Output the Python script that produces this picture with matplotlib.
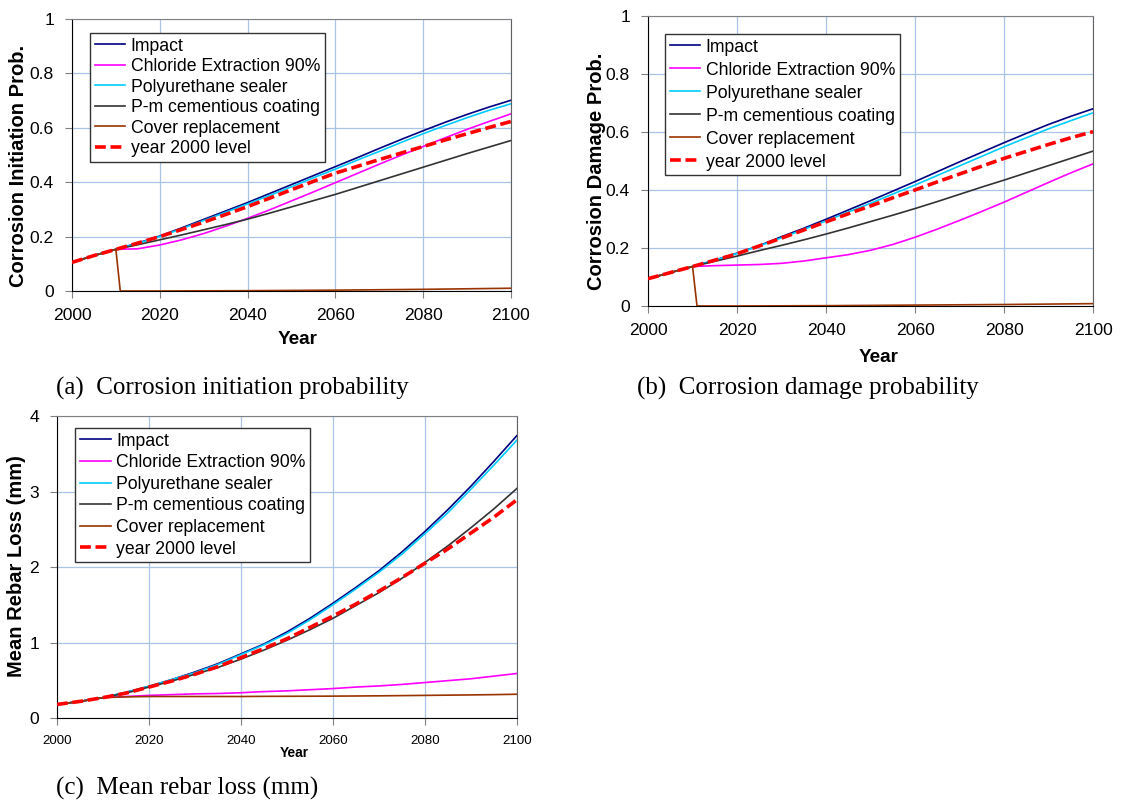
import numpy as np
import matplotlib
matplotlib.use("Agg")
import matplotlib.pyplot as plt

# ------------------------------------------------------------
# Data (every 5 years, 2000-2100)
# ------------------------------------------------------------
years = list(range(2000, 2101, 5))
years_cover = [2000, 2005, 2010, 2011, 2020, 2040, 2060, 2080, 2100]

labels = ["Impact", "Chloride Extraction 90%", "Polyurethane sealer",
          "P-m cementious coating", "Cover replacement", "year 2000 level"]

# (a) corrosion initiation probability
init_impact = [0.105, 0.130, 0.153, 0.176, 0.202, 0.232, 0.263, 0.294, 0.325, 0.358, 0.391,
               0.424, 0.457, 0.490, 0.524, 0.557, 0.589, 0.620, 0.649, 0.676, 0.701]
init_chloride = [0.105, 0.130, 0.153, 0.155, 0.169, 0.188, 0.211, 0.238, 0.267, 0.298, 0.331,
                 0.364, 0.398, 0.432, 0.466, 0.499, 0.531, 0.563, 0.594, 0.623, 0.651]
init_sealer = [0.105, 0.130, 0.153, 0.175, 0.200, 0.229, 0.259, 0.289, 0.320, 0.351, 0.383,
               0.416, 0.448, 0.481, 0.513, 0.546, 0.578, 0.608, 0.637, 0.664, 0.688]
init_coating = [0.105, 0.130, 0.153, 0.170, 0.188, 0.206, 0.225, 0.244, 0.264, 0.286, 0.309,
                0.332, 0.355, 0.380, 0.405, 0.430, 0.455, 0.480, 0.505, 0.529, 0.553]
init_cover = [0.105, 0.130, 0.153, 0.0, 0.0, 0.001, 0.003, 0.006, 0.010]
init_2000 = [0.105, 0.130, 0.153, 0.176, 0.200, 0.226, 0.253, 0.281, 0.310, 0.341, 0.372,
             0.403, 0.433, 0.458, 0.483, 0.507, 0.531, 0.555, 0.578, 0.601, 0.623]

# (b) corrosion damage probability
dmg_impact = [0.094, 0.115, 0.136, 0.158, 0.182, 0.208, 0.239, 0.268, 0.299, 0.331, 0.363,
              0.396, 0.429, 0.463, 0.497, 0.530, 0.563, 0.595, 0.626, 0.654, 0.680]
dmg_chloride = [0.094, 0.115, 0.136, 0.139, 0.141, 0.143, 0.147, 0.155, 0.166, 0.177, 0.192,
                0.212, 0.237, 0.265, 0.295, 0.326, 0.358, 0.392, 0.426, 0.459, 0.490]
dmg_sealer = [0.094, 0.115, 0.136, 0.158, 0.181, 0.207, 0.235, 0.264, 0.293, 0.324, 0.354,
              0.386, 0.417, 0.450, 0.483, 0.516, 0.549, 0.580, 0.611, 0.639, 0.666]
dmg_coating = [0.094, 0.115, 0.136, 0.154, 0.172, 0.191, 0.209, 0.228, 0.248, 0.269, 0.291,
               0.313, 0.336, 0.360, 0.385, 0.410, 0.434, 0.459, 0.484, 0.509, 0.534]
dmg_cover = [0.094, 0.115, 0.136, 0.0, 0.0, 0.001, 0.003, 0.005, 0.008]
dmg_2000 = [0.094, 0.115, 0.136, 0.158, 0.180, 0.207, 0.234, 0.262, 0.290, 0.318, 0.345,
            0.373, 0.400, 0.428, 0.455, 0.482, 0.509, 0.533, 0.557, 0.580, 0.601]

# (c) mean rebar loss (mm)
loss_impact = [0.18, 0.22, 0.27, 0.34, 0.42, 0.51, 0.61, 0.72, 0.85, 0.98, 1.14,
               1.32, 1.52, 1.73, 1.95, 2.20, 2.47, 2.76, 3.07, 3.40, 3.74]
loss_chloride = [0.18, 0.22, 0.27, 0.285, 0.30, 0.31, 0.32, 0.325, 0.335, 0.35, 0.36,
                 0.375, 0.39, 0.41, 0.425, 0.445, 0.47, 0.495, 0.52, 0.555, 0.59]
loss_sealer = [0.18, 0.22, 0.27, 0.34, 0.42, 0.51, 0.60, 0.71, 0.84, 0.97, 1.12,
               1.30, 1.50, 1.71, 1.93, 2.17, 2.44, 2.72, 3.03, 3.35, 3.68]
loss_coating = [0.18, 0.22, 0.27, 0.33, 0.41, 0.49, 0.58, 0.67, 0.78, 0.90, 1.03,
                1.17, 1.32, 1.49, 1.66, 1.85, 2.06, 2.28, 2.52, 2.77, 3.04]
loss_cover = [0.18, 0.22, 0.27, 0.28, 0.285, 0.285, 0.285, 0.285, 0.285, 0.287, 0.288,
              0.289, 0.29, 0.292, 0.294, 0.297, 0.30, 0.303, 0.306, 0.31, 0.315]
loss_2000 = [0.18, 0.22, 0.27, 0.33, 0.41, 0.49, 0.58, 0.68, 0.80, 0.92, 1.05,
             1.20, 1.35, 1.51, 1.68, 1.86, 2.05, 2.24, 2.45, 2.66, 2.89]

# ------------------------------------------------------------
# Styles
# ------------------------------------------------------------
colors = ["#000080", "#ff00ff", "#00ccff", "#333333", "#993300", "#ff0000"]
grid_color = "#a9c4e6"
sans = "Liberation Sans"
serif = "Liberation Serif"

fig = plt.figure(figsize=(11.21, 8.02), dpi=100)


def draw_panel(rect, series, ylim, yticks, ylabel, ylabel_xy, xlabel_xy,
               leg_xy, labelspacing, xtick_size=12.6, xlabel_size=13.6):
    ax = fig.add_axes(rect)
    ax.set_axisbelow(True)
    ax.grid(True, color=grid_color, lw=0.9)
    for i, (x, y) in enumerate(series):
        if i == 5:
            ax.plot(x, y, color=colors[i], lw=2.6, ls=(0, (3.0, 1.3)), label=labels[i], zorder=4)
        else:
            ax.plot(x, y, color=colors[i], lw=1.2, label=labels[i], zorder=3)
    ax.set_xlim(2000, 2100)
    ax.set_ylim(*ylim)
    ax.set_xticks(range(2000, 2101, 20))
    ax.set_yticks(yticks)
    ax.set_yticklabels([f"{t:g}" for t in yticks])
    ax.tick_params(axis="y", direction="out", length=5, color="#808080", pad=8,
                   labelsize=12.6)
    ax.tick_params(axis="x", direction="out", length=5, color="#808080", pad=7,
                   labelsize=xtick_size)
    for lab in ax.get_xticklabels() + ax.get_yticklabels():
        lab.set_fontfamily(sans)
    ax.spines["left"].set_color("black")
    ax.spines["bottom"].set_color("black")
    ax.spines["top"].set_color("#808080")
    ax.spines["right"].set_color("#606060")

    ax.set_ylabel(ylabel, fontsize=14.5, fontweight="bold", family=sans, va="center")
    ax.yaxis.set_label_coords(*ylabel_xy)
    ax.set_xlabel("Year", fontsize=xlabel_size, fontweight="bold", family=sans, va="center")
    ax.xaxis.set_label_coords(*xlabel_xy)

    leg = ax.legend(loc="upper left", bbox_to_anchor=leg_xy, borderaxespad=0,
                    prop={"family": sans, "size": 12.7}, fancybox=False,
                    edgecolor="#333333", framealpha=1, handlelength=1.75,
                    handletextpad=0.3, labelspacing=labelspacing, borderpad=0.26)
    leg.get_frame().set_linewidth(1.0)
    return ax


# (a)
draw_panel([0.0642, 0.6372, 0.3916, 0.3392],
           [(years, init_impact), (years, init_chloride), (years, init_sealer),
            (years, init_coating), (years_cover, init_cover), (years, init_2000)],
           (0, 1), [0, 0.2, 0.4, 0.6, 0.8, 1],
           "Corrosion Initiation Prob.", (-0.121, 0.46), (0.513, -0.18),
           (0.041, 0.9485), 0.2)

# (b)
draw_panel([0.5781, 0.6185, 0.3970, 0.3616],
           [(years, dmg_impact), (years, dmg_chloride), (years, dmg_sealer),
            (years, dmg_coating), (years_cover, dmg_cover), (years, dmg_2000)],
           (0, 1), [0, 0.2, 0.4, 0.6, 0.8, 1],
           "Corrosion Damage Prob.", (-0.115, 0.466), (0.517, -0.176),
           (0.038, 0.938), 0.34)

# (c)
draw_panel([0.0508, 0.1047, 0.4103, 0.3766],
           [(years, loss_impact), (years, loss_chloride), (years, loss_sealer),
            (years, loss_coating), (years, loss_cover), (years, loss_2000)],
           (0, 4), [0, 1, 2, 3, 4],
           "Mean Rebar Loss (mm)", (-0.089, 0.504), (0.515, -0.116),
           (0.040, 0.960), 0.26, xtick_size=9.6, xlabel_size=9.9)

# ------------------------------------------------------------
# Captions
# ------------------------------------------------------------
fig.text(56 / 1121, 1 - 388 / 802, "(a)  Corrosion initiation probability",
         family=serif, fontsize=18, ha="left", va="center")
fig.text(637 / 1121, 1 - 388 / 802, "(b)  Corrosion damage probability",
         family=serif, fontsize=18, ha="left", va="center")
fig.text(56 / 1121, 1 - 788 / 802, "(c)  Mean rebar loss (mm)",
         family=serif, fontsize=18, ha="left", va="center")

fig.savefig("out.png", dpi=100)
